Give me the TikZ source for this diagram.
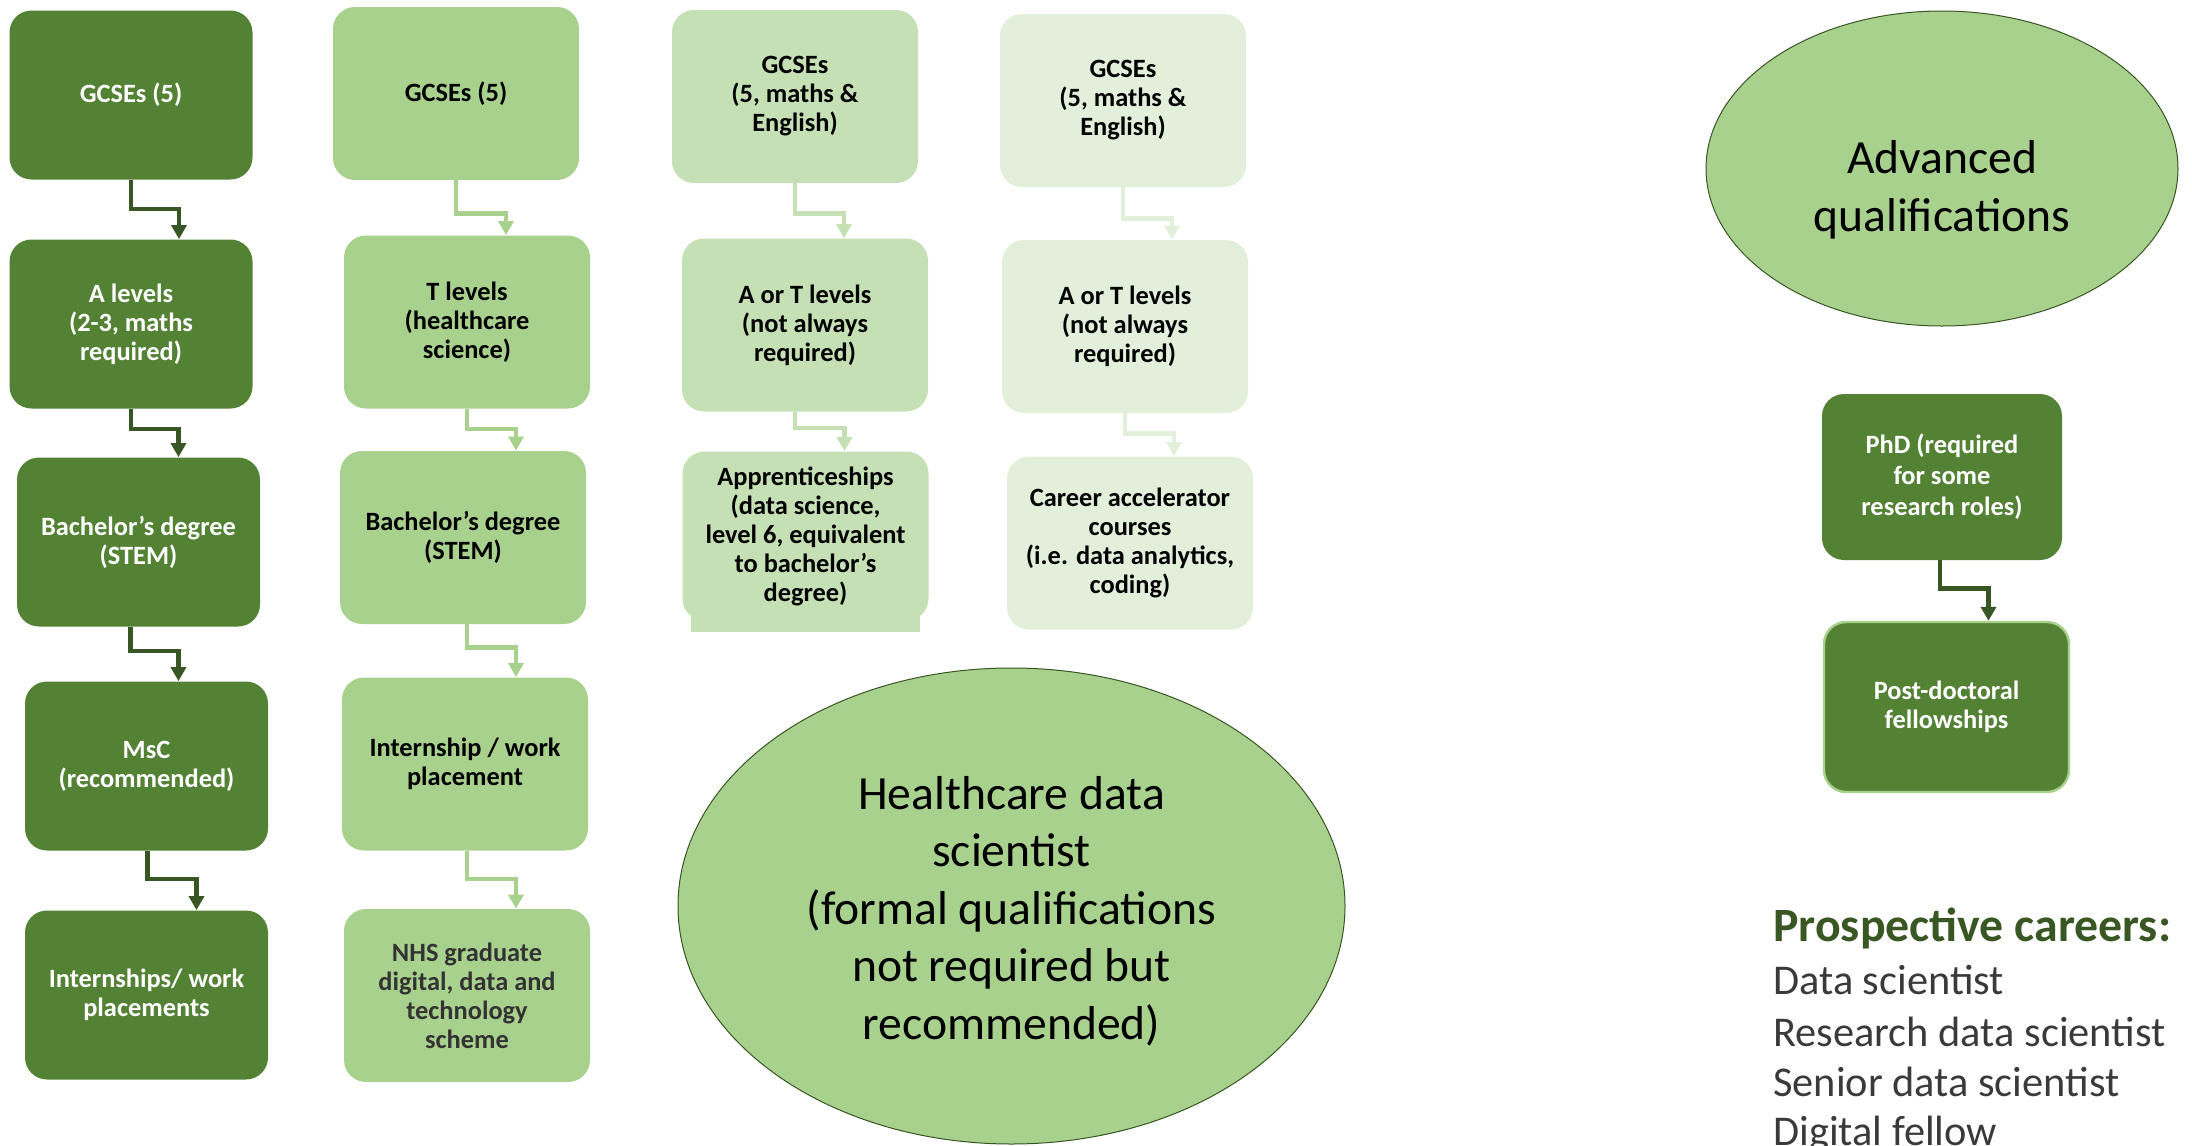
\documentclass[tikz,border=0pt]{standalone}
\usepackage{fontspec}
\setmainfont{Carlito}
\usetikzlibrary{arrows.meta,shapes.geometric}
\definecolor{dkg}{HTML}{548235}
\definecolor{dka}{HTML}{375623}
\definecolor{mdg}{HTML}{A9D18E}
\definecolor{ltg}{HTML}{C5E0B4}
\definecolor{vlg}{HTML}{E2EFDA}
\definecolor{ttl}{HTML}{385723}
\definecolor{gry}{HTML}{3A3A3A}
\definecolor{nhs}{HTML}{333333}
\begin{document}
\begin{tikzpicture}[x=0.5pt,y=-0.5pt,
  box/.style={rectangle, rounded corners=11pt, align=center, inner sep=0pt,
    minimum width=123pt, minimum height=86.5pt,
    font=\fontsize{13.2}{14.5}\selectfont\bfseries},
  boxdk/.style={box, fill=dkg, text=white, minimum width=121.5pt, minimum height=84.5pt},
  boxmd/.style={box, fill=mdg, text=black},
  boxlt/.style={box, fill=ltg, text=black},
  boxvl/.style={box, fill=vlg, text=black},
  con/.style={line width=2.3pt, -{Triangle[width=7.5pt,length=7pt]}},
  condk/.style={con, draw=dka},
  conmd/.style={con, draw=mdg},
  conlt/.style={con, draw=ltg},
  convl/.style={con, draw=vlg},
  oval/.style={ellipse, fill=mdg, draw=dka, line width=0.5pt, inner sep=0pt, align=center},
  ovaltext/.style={align=center, inner sep=0pt, font=\fontsize{23.8}{28.8}\selectfont},
  careerline/.style={anchor=base west, inner sep=0pt, text=gry, font=\fontsize{21.2}{25}\selectfont}
]
\useasboundingbox (0,0) rectangle (2192,1146);

% column 1
\node[boxdk] (c1a) at (131,95) {GCSEs (5)};
\node[boxdk] (c1b) at (131,324) {A levels\\(2-3, maths\\required)};
\node[boxdk] (c1c) at (138.5,542) {Bachelor’s degree\\(STEM)};
\node[boxdk] (c1d) at (146.5,766) {MsC\\(recommended)};
\node[boxdk] (c1e) at (146.5,995) {Internships/ work\\placements};

% column 2
\node[boxmd] (c2a) at (456,93.5) {GCSEs (5)};
\node[boxmd] (c2b) at (467,322) {T levels\\(healthcare\\science)};
\node[boxmd] (c2c) at (463,537.5) {Bachelor’s degree\\(STEM)};
\node[boxmd] (c2d) at (465,764) {Internship / work\\placement};
\node[boxmd, text=nhs] (c2e) at (467,995.5) {NHS graduate\\digital, data and\\technology\\scheme};

% column 3
\node[boxlt] (c3a) at (795,96.5) {GCSEs\\(5, maths \&\\English)};
\node[boxlt] (c3b) at (805,325) {A or T levels\\(not always\\required)};
\fill[ltg] (691,595) rectangle (920,632);
\node[boxlt, minimum height=84.5pt] (c3c) at (805.5,536) {Apprenticeships\\(data science,\\level 6, equivalent\\to bachelor’s\\degree)};

% column 4
\node[boxvl] (c4a) at (1123,100.5) {GCSEs\\(5, maths \&\\English)};
\node[boxvl] (c4b) at (1125,326.5) {A or T levels\\(not always\\required)};
\node[boxvl] (c4c) at (1130,543) {Career accelerator\\courses\\(i.e. data analytics,\\coding)};

% advanced
\node[oval, minimum width=236pt, minimum height=157.5pt] (adv) at (1942,168.5) {};
\node[ovaltext, font=\fontsize{23.8}{29}\selectfont] (advt) at (1942,190) {Advanced\\qualifications};
\node[boxdk, minimum width=120pt, minimum height=83pt, font=\fontsize{13.2}{15.5}\selectfont\bfseries] (phd) at (1942,477) {PhD (required\\for some\\research roles)};
\node[boxdk, draw=mdg, line width=1.2pt, minimum width=122.5pt, minimum height=85pt] (post) at (1946.5,707) {Post-doctoral\\fellowships};

% healthcare ellipse
\node[oval, minimum width=333.5pt, minimum height=238pt] (hds) at (1011.5,906) {};
\node[ovaltext] (hdst) at (1011.5,911) {Healthcare data\\scientist\\(formal qualifications\\not required but\\recommended)};

% prospective careers
\node[anchor=base west, inner sep=0pt, text=ttl, font=\fontsize{23.9}{28}\selectfont\bfseries] (pc) at (1773,941) {Prospective careers:};
\node[careerline] (pc1) at (1773,994) {Data scientist};
\node[careerline] (pc2) at (1773,1046) {Research data scientist};
\node[careerline] (pc3) at (1773,1096) {Senior data scientist};
\node[careerline] (pc4) at (1773,1145) {Digital fellow};

% connectors column 1
\draw[condk] (c1a.south) -- ++(0,29) -| ([xshift=24pt]c1b.north);
\draw[condk] (c1b.south) -- ++(0,20) -| ([xshift=20pt]c1c.north);
\draw[condk] ([xshift=-4pt]c1c.south) -- ++(0,24) -| ([xshift=16pt]c1d.north);
\draw[condk] ([xshift=0.5pt]c1d.south) -- ++(0,28) -| ([xshift=25pt]c1e.north);
% column 2
\draw[conmd] (c2a.south) -- ++(0,33) -| ([xshift=19.5pt]c2b.north);
\draw[conmd] (c2b.south) -- ++(0,20) -| ([xshift=26.5pt]c2c.north);
\draw[conmd] ([xshift=2pt]c2c.south) -- ++(0,23) -| ([xshift=25.5pt]c2d.north);
\draw[conmd] ([xshift=1pt]c2d.south) -- ++(0,28) -| ([xshift=24.5pt]c2e.north);
% column 3
\draw[conlt] (c3a.south) -- ++(0,30) -| ([xshift=19.5pt]c3b.north);
\draw[conlt] ([xshift=-5pt]c3b.south) -- ++(0,16) -| ([xshift=19.5pt]c3c.north);
% column 4
\draw[convl] (c4a.south) -- ++(0,31) -| ([xshift=23.5pt]c4b.north);
\draw[convl] (c4b.south) -- ++(0,20) -| ([xshift=22pt]c4c.north);
% phd
\draw[condk] ([xshift=-1pt]phd.south) -- ++(0,28) -| ([xshift=21pt]post.north);
\end{tikzpicture}
\end{document}
